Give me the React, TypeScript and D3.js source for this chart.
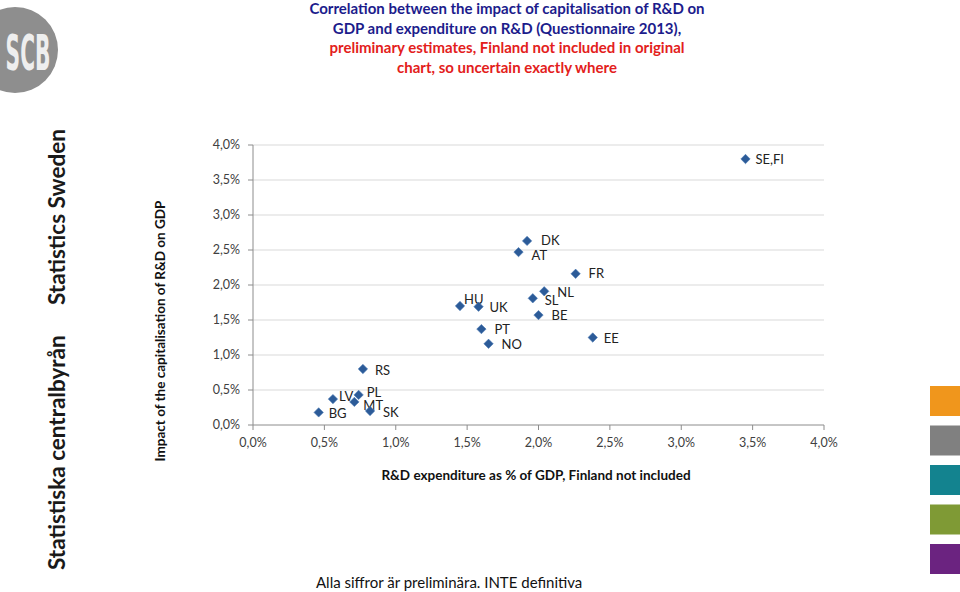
import React from "react";
import * as d3 from "d3";

const countries = ["SE,FI", "DK", "AT", "FR", "NL", "SL", "HU", "UK", "BE", "PT", "NO", "EE", "RS", "LV", "PL", "MT", "BG", "SK"];
const rdExpenditure = [3.45, 1.92, 1.86, 2.26, 2.04, 1.96, 1.45, 1.58, 2.0, 1.6, 1.65, 2.38, 0.77, 0.56, 0.74, 0.71, 0.46, 0.82];
const capitalisationImpact = [3.8, 2.63, 2.47, 2.16, 1.91, 1.81, 1.7, 1.69, 1.57, 1.37, 1.16, 1.25, 0.8, 0.37, 0.43, 0.33, 0.18, 0.2];
const xTicks = [0, 0.5, 1, 1.5, 2, 2.5, 3, 3.5, 4];
const yTicks = [0, 0.5, 1, 1.5, 2, 2.5, 3, 3.5, 4];
const titleLinesBlue = ["Correlation between the impact of capitalisation of R&D on", "GDP and expenditure on R&D  (Questionnaire 2013),"];
const titleLinesRed = ["preliminary estimates, Finland not included in original", "chart, so uncertain exactly where"];
const swatchColors = ["#f0961c", "#808080", "#13838f", "#7f9a35", "#6b2380"];

// label offsets (dx, dy) relative to marker, layout only
const labelOffsets: Record<string, [number, number]> = {
  "SE,FI": [10, 0], DK: [14, 0], AT: [13, 3], FR: [13, 0], NL: [13, 1], SL: [12, 2],
  HU: [4, -7], UK: [11, 1], BE: [13, 0], PT: [13, 0], NO: [13, 1], EE: [11, 1],
  RS: [12, 1], LV: [6, -3], PL: [8, -2], MT: [9, 4], BG: [10, 1], SK: [13, 1],
};

const fmt = (v: number) => d3.format(".1f")(v).replace(".", ",") + "%";

export default function App() {
  const x = d3.scaleLinear().domain([0, 4]).range([253, 824]);
  const y = d3.scaleLinear().domain([0, 4]).range([425, 145]);
  const font = "Lato, 'Open Sans', sans-serif";
  const diamond = d3.symbol().type(d3.symbolDiamond2).size(56)() as string;

  return (
    <svg width={960} height={592} style={{ position: "absolute", left: 0, top: 0, background: "#fff" }} fontFamily={font}>
      {/* logo */}
      <circle cx={15} cy={50} r={43} fill="#8e8e8e" />
      <text x={0} y={0} transform="translate(28,70) scale(0.45,1)" textAnchor="middle" fill="#eeeeee" fontWeight="bold" fontSize={50} fontFamily="'DejaVu Sans Condensed', 'DejaVu Sans', sans-serif">SCB</text>

      {/* side text */}
      <text transform="translate(65,305) rotate(-90)" fontSize={22.5} fontWeight="bold" fill="#1a1a1a">Statistics Sweden</text>
      <text transform="translate(65,570) rotate(-90)" fontSize={22.5} fontWeight="bold" fill="#1a1a1a">Statistiska centralbyrån</text>

      {/* title */}
      {titleLinesBlue.map((t, i) => (
        <text key={"b" + i} x={507} y={14 + i * 19.5} textAnchor="middle" fontSize={15} fontWeight="bold" fill="#1c1c8c">{t}</text>
      ))}
      {titleLinesRed.map((t, i) => (
        <text key={"r" + i} x={507} y={53 + i * 19.5} textAnchor="middle" fontSize={15} fontWeight="bold" fill="#e3201b">{t}</text>
      ))}

      {/* gridlines */}
      {yTicks.filter((t) => t > 0).map((t) => (
        <line key={"g" + t} x1={x(0)} x2={x(4)} y1={y(t)} y2={y(t)} stroke="#d9d9d9" strokeWidth={1} />
      ))}
      {/* axes */}
      <line x1={x(0)} x2={x(0)} y1={y(0)} y2={y(4)} stroke="#8c8c8c" />
      <line x1={x(0)} x2={x(4)} y1={y(0)} y2={y(0)} stroke="#8c8c8c" />
      {yTicks.map((t) => (
        <g key={"yt" + t}>
          <line x1={x(0) - 5} x2={x(0)} y1={y(t)} y2={y(t)} stroke="#8c8c8c" />
          <text x={x(0) - 13} y={y(t)} dy="0.35em" textAnchor="end" fontSize={12.5} fill="#404040">{fmt(t)}</text>
        </g>
      ))}
      {xTicks.map((t) => (
        <g key={"xt" + t}>
          <line x1={x(t)} x2={x(t)} y1={y(0)} y2={y(0) + 5} stroke="#8c8c8c" />
          <text x={x(t)} y={y(0) + 18} dy="0.35em" textAnchor="middle" fontSize={12.5} fill="#404040">{fmt(t)}</text>
        </g>
      ))}

      {/* axis titles */}
      <text x={536} y={480} textAnchor="middle" fontSize={13.5} fontWeight="bold" fill="#111">R&amp;D expenditure as % of GDP, Finland not included</text>
      <text transform="translate(165,331) rotate(-90)" textAnchor="middle" fontSize={13.5} fontWeight="bold" fill="#111">Impact of the capitalisation of R&amp;D on GDP</text>

      {/* points */}
      {countries.map((c, i) => {
        const px = x(rdExpenditure[i]);
        const py = y(capitalisationImpact[i]);
        const [dx, dy] = labelOffsets[c] || [10, 0];
        return (
          <g key={c}>
            <path d={diamond} transform={`translate(${px},${py})`} fill="#2c5b98" stroke="#4a78b4" strokeWidth={0.6} />
            <text x={px + dx} y={py + dy} dy="0.35em" fontSize={13} fill="#222">{c}</text>
          </g>
        );
      })}

      {/* swatches */}
      {swatchColors.map((c, i) => (
        <rect key={c} x={930} y={386 + i * 39.5} width={30} height={30} fill={c} />
      ))}

      <text x={316} y={588} fontSize={15} fill="#111">Alla siffror är preliminära. INTE definitiva</text>
    </svg>
  );
}
